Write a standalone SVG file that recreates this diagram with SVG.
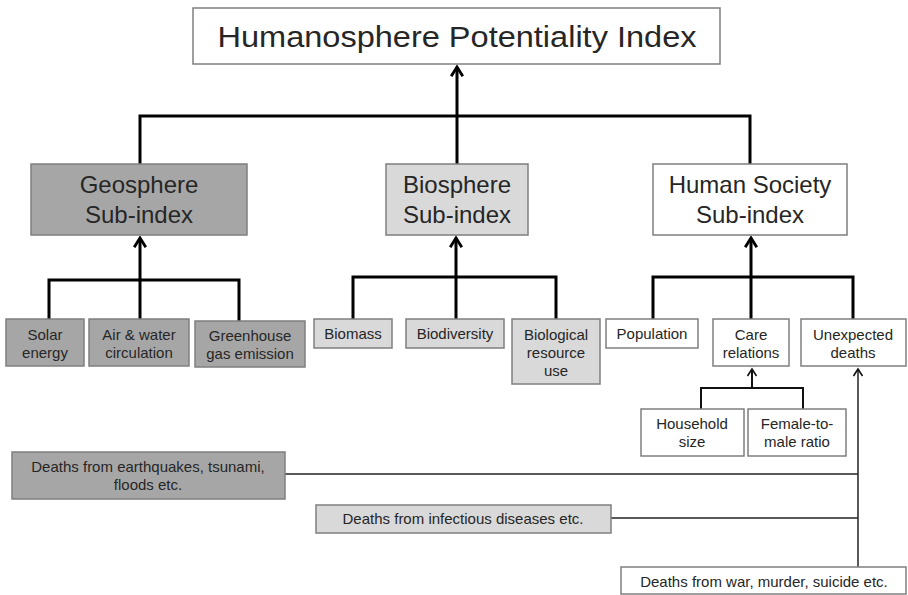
<svg xmlns="http://www.w3.org/2000/svg" width="908" height="595" viewBox="0 0 908 595">
<style>
text{font-family:"Liberation Sans",Arial,sans-serif;fill:#262626;text-anchor:middle}
.box{stroke:#7f7f7f;stroke-width:1.5}
.w{fill:#fff}.d{fill:#a6a6a6}.l{fill:#d9d9d9}
.t{font-size:30px}.s{font-size:24px}.n{font-size:15px}
.c{fill:none;stroke:#000;stroke-width:3}
.c2{fill:none;stroke:#111;stroke-width:2}
.c3{fill:none;stroke:#222;stroke-width:1.5}
</style>
<defs>
<marker id="ah" markerUnits="userSpaceOnUse" markerWidth="14" markerHeight="14" refX="9" refY="6" orient="auto" viewBox="0 0 12 12">
<path d="M1,1 L9,6 L1,11" fill="none" stroke="#000" stroke-width="2.5"/>
</marker>
<marker id="ah2" markerUnits="userSpaceOnUse" markerWidth="12" markerHeight="12" refX="9" refY="6" orient="auto" viewBox="0 0 12 12">
<path d="M2,1.5 L9,6 L2,10.5" fill="none" stroke="#111" stroke-width="1.6"/>
</marker>
</defs>
<g id="connectors">
<path class="c" d="M140,164 V116 H750 V164"/>
<path class="c" d="M457,164 V116" />
<path class="c" d="M457,116 V67" marker-end="url(#ah)"/>
<path class="c" d="M49,320 V280 H239 V321"/>
<path class="c" d="M140,320 V280"/>
<path class="c" d="M140,280 V238" marker-end="url(#ah)"/>
<path class="c" d="M353,319 V277 H556 V319"/>
<path class="c" d="M456,319 V277"/>
<path class="c" d="M456,277 V238" marker-end="url(#ah)"/>
<path class="c" d="M653,319 V277 H853 V319"/>
<path class="c" d="M751,319 V277"/>
<path class="c" d="M751,277 V238" marker-end="url(#ah)"/>
<path class="c2" d="M701,409 V388 H803 V409"/>
<path class="c2" d="M752,388 V369" marker-end="url(#ah2)"/>
<path class="c3" d="M285,474 H858"/>
<path class="c3" d="M611,518 H858"/>
<path class="c3" d="M858,567 V369" marker-end="url(#ah2)"/>
</g>
<g id="hpi"><rect class="box w" x="193" y="8" width="527" height="56"/><text class="t" x="457" y="47" textLength="479" lengthAdjust="spacingAndGlyphs">Humanosphere Potentiality Index</text></g>
<g id="geo"><rect class="box d" x="31" y="164" width="216" height="71"/><text class="s" x="139" y="193">Geosphere</text><text class="s" x="139" y="223">Sub-index</text></g>
<g id="bio"><rect class="box l" x="386" y="164" width="142" height="71"/><text class="s" x="457" y="193">Biosphere</text><text class="s" x="457" y="223">Sub-index</text></g>
<g id="hum"><rect class="box w" x="653" y="164" width="194" height="71"/><text class="s" x="750" y="193">Human Society</text><text class="s" x="750" y="223">Sub-index</text></g>
<g id="solar"><rect class="box d" x="6" y="319" width="78" height="47"/><text class="n" x="45" y="340">Solar</text><text class="n" x="45" y="358">energy</text></g>
<g id="air"><rect class="box d" x="89" y="319" width="100" height="47"/><text class="n" x="139" y="340">Air &amp; water</text><text class="n" x="139" y="358">circulation</text></g>
<g id="ghg"><rect class="box d" x="195" y="321" width="110" height="46"/><text class="n" x="250" y="341">Greenhouse</text><text class="n" x="250" y="359">gas emission</text></g>
<g id="biomass"><rect class="box l" x="314" y="319" width="78" height="29"/><text class="n" x="353" y="339">Biomass</text></g>
<g id="biodiv"><rect class="box l" x="406" y="319" width="98" height="29"/><text class="n" x="455" y="339">Biodiversity</text></g>
<g id="bioruse"><rect class="box l" x="512" y="319" width="88" height="65"/><text class="n" x="556" y="340">Biological</text><text class="n" x="556" y="358">resource</text><text class="n" x="556" y="376">use</text></g>
<g id="pop"><rect class="box w" x="606" y="319" width="92" height="29"/><text class="n" x="652" y="339">Population</text></g>
<g id="care"><rect class="box w" x="713" y="319" width="76" height="47"/><text class="n" x="751" y="340">Care</text><text class="n" x="751" y="358">relations</text></g>
<g id="unexp"><rect class="box w" x="801" y="319" width="105" height="47"/><text class="n" x="853" y="340">Unexpected</text><text class="n" x="853" y="358">deaths</text></g>
<g id="household"><rect class="box w" x="641" y="409" width="103" height="47"/><text class="n" x="692" y="429">Household</text><text class="n" x="692" y="447">size</text></g>
<g id="ftm"><rect class="box w" x="748" y="409" width="98" height="47"/><text class="n" x="797" y="429">Female-to-</text><text class="n" x="797" y="447">male ratio</text></g>
<g id="dquake"><rect class="box d" x="12" y="452" width="273" height="47"/><text class="n" x="148" y="472">Deaths from earthquakes, tsunami,</text><text class="n" x="148" y="490">floods etc.</text></g>
<g id="dinf"><rect class="box l" x="316" y="505" width="295" height="28"/><text class="n" x="463" y="524">Deaths from infectious diseases etc.</text></g>
<g id="dwar"><rect class="box w" x="621" y="567" width="285" height="27"/><text class="n" x="764" y="587">Deaths from war, murder, suicide etc.</text></g>
</svg>
